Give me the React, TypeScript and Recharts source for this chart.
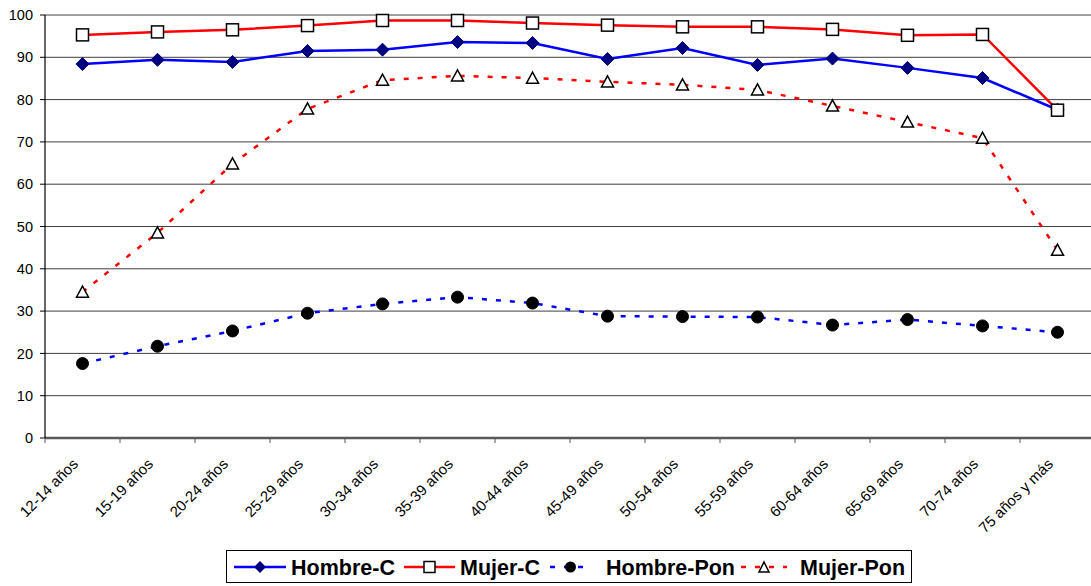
import React from 'react';
import { LineChart, Line, XAxis, YAxis, CartesianGrid } from 'recharts';

const categories = ['12-14 años', '15-19 años', '20-24 años', '25-29 años', '30-34 años', '35-39 años', '40-44 años', '45-49 años', '50-54 años', '55-59 años', '60-64 años', '65-69 años', '70-74 años', '75 años y más'];
const hombreC = [88.4, 89.4, 88.9, 91.5, 91.8, 93.6, 93.4, 89.6, 92.2, 88.2, 89.7, 87.5, 85.1, 77.6];
const mujerC = [95.3, 96.0, 96.5, 97.5, 98.7, 98.7, 98.1, 97.6, 97.2, 97.2, 96.6, 95.2, 95.4, 77.5];
const hombrePon = [17.6, 21.7, 25.3, 29.5, 31.7, 33.3, 31.9, 28.8, 28.7, 28.6, 26.7, 28.0, 26.5, 25.0];
const mujerPon = [34.5, 48.5, 64.8, 77.8, 84.6, 85.6, 85.1, 84.2, 83.5, 82.3, 78.5, 74.7, 70.9, 44.4];
const yTicks = [0, 10, 20, 30, 40, 50, 60, 70, 80, 90, 100];

const data = categories.map((c, i) => ({
  idx: i,
  name: c,
  hombreC: hombreC[i],
  mujerC: mujerC[i],
  hombrePon: hombrePon[i],
  mujerPon: mujerPon[i],
}));

const labelTicks = categories.map((_, i) => i);

const CHART_W = 1095;
const CHART_H = 586;
const Y_AXIS_W = 45;
const MARGIN = { top: 15, right: 0, left: 0, bottom: 48 };
const PLOT_W = CHART_W - MARGIN.left - MARGIN.right - Y_AXIS_W;
const BAND = PLOT_W / categories.length;

const FONT = 'Arial, "Liberation Sans", Helvetica, sans-serif';

const Diamond = (props: any) => {
  const { cx, cy, index } = props;
  if (cx == null || cy == null) return null;
  const r = 6.5;
  return <path key={`d${index}`} d={`M${cx},${cy - r}L${cx + r},${cy}L${cx},${cy + r}L${cx - r},${cy}Z`} fill="#000080" stroke="#000080" />;
};
const Square = (props: any) => {
  const { cx, cy, index } = props;
  if (cx == null || cy == null) return null;
  const s = 12;
  return <rect key={`s${index}`} x={cx - s / 2} y={cy - s / 2} width={s} height={s} fill="#fff" stroke="#000" strokeWidth={1.5} />;
};
const Circle = (props: any) => {
  const { cx, cy, index } = props;
  if (cx == null || cy == null) return null;
  return <circle key={`c${index}`} cx={cx} cy={cy} r={6} fill="#000" stroke="#000" />;
};
const Triangle = (props: any) => {
  const { cx, cy, index } = props;
  if (cx == null || cy == null) return null;
  const r = 6;
  return <path key={`t${index}`} d={`M${cx},${cy - r}L${cx + r},${cy + r * 0.85}L${cx - r},${cy + r * 0.85}Z`} fill="#fff" stroke="#000" strokeWidth={1.5} />;
};

const XLabel = (props: any) => {
  const { x, y, payload } = props;
  const tx = x - 3.5;
  const ty = y + 27;
  const bx = x - BAND / 2;
  return (
    <g>
      <line x1={bx} x2={bx} y1={y} y2={y + 5} stroke="#595959" strokeWidth={1} />
      <text x={tx} y={ty} transform={`rotate(-45 ${tx} ${ty})`} textAnchor="end" fontSize={15} fontFamily={FONT} fill="#000">
        {categories[payload.value]}
      </text>
    </g>
  );
};

const legendItems = [
  { label: 'Hombre-C', color: '#0000FF', dash: undefined, marker: 'diamond', sx: 7, sw: 52, tx: 64 },
  { label: 'Mujer-C', color: '#FF0000', dash: undefined, marker: 'square', sx: 177, sw: 51, tx: 233 },
  { label: 'Hombre-Pon', color: '#0000FF', dash: '5 9', marker: 'circle', sx: 323, sw: 41, tx: 379 },
  { label: 'Mujer-Pon', color: '#FF0000', dash: '5 9', marker: 'triangle', sx: 514, sw: 46, tx: 573 },
];

const LegendMarker = ({ marker, cx, cy }: any) => {
  if (marker === 'diamond') return <path d={`M${cx},${cy - 6}L${cx + 6},${cy}L${cx},${cy + 6}L${cx - 6},${cy}Z`} fill="#000080" />;
  if (marker === 'square') return <rect x={cx - 5.5} y={cy - 5.5} width={11} height={11} fill="#fff" stroke="#000" strokeWidth={1.5} />;
  if (marker === 'circle') return <circle cx={cx} cy={cy} r={5.5} fill="#000" />;
  return <path d={`M${cx},${cy - 5}L${cx + 5},${cy + 5}L${cx - 5},${cy + 5}Z`} fill="#fff" stroke="#000" strokeWidth={1.5} />;
};

export default function App() {
  return (
    <div style={{ position: 'absolute', left: 0, top: 0, width: 1091, height: 586, background: '#fff', overflow: 'hidden' }}>
      <LineChart width={CHART_W} height={CHART_H} data={data} margin={MARGIN}>
        <CartesianGrid horizontal vertical={false} stroke="#3f3f3f" strokeWidth={1} />
        <XAxis
          dataKey="idx"
          type="number"
          domain={[-0.5, categories.length - 0.5]}
          ticks={labelTicks}
          tick={XLabel}
          tickLine={false}
          tickSize={0}
          tickMargin={0}
          axisLine={{ stroke: '#595959', strokeWidth: 2.5 }}
          height={100}
          interval={0}
        />
        <YAxis
          domain={[0, 100]}
          ticks={yTicks}
          interval={0}
          width={Y_AXIS_W}
          tickSize={5}
          tickMargin={7}
          tickLine={{ stroke: '#000' }}
          axisLine={{ stroke: '#000', strokeWidth: 1.2 }}
          tick={{ fontSize: 14.5, fontFamily: FONT, fill: '#000' }}
        />
        <Line dataKey="hombreC" stroke="#0000FF" strokeWidth={2.5} dot={Diamond} isAnimationActive={false} />
        <Line dataKey="mujerC" stroke="#FF0000" strokeWidth={2.5} dot={Square} isAnimationActive={false} />
        <Line dataKey="hombrePon" stroke="#0000FF" strokeWidth={2.5} strokeDasharray="5 9" dot={Circle} isAnimationActive={false} />
        <Line dataKey="mujerPon" stroke="#FF0000" strokeWidth={2.5} strokeDasharray="5 9" dot={Triangle} isAnimationActive={false} />
      </LineChart>
      <div style={{ position: 'absolute', left: 226, top: 550, width: 686, height: 33, border: '1px solid #000', boxSizing: 'border-box' }}>
        <svg width={686} height={33} style={{ position: 'absolute', left: 0, top: 0 }}>
          {legendItems.map((it) => (
            <g key={it.label}>
              <line x1={it.sx} x2={it.sx + it.sw} y1={16} y2={16} stroke={it.color} strokeWidth={2.5} strokeDasharray={it.dash} />
              <LegendMarker marker={it.marker} cx={it.sx + it.sw / 2} cy={16} />
              <text x={it.tx} y={24} fontSize={21.5} fontWeight="bold" fontFamily={FONT} fill="#000">{it.label}</text>
            </g>
          ))}
        </svg>
      </div>
    </div>
  );
}
